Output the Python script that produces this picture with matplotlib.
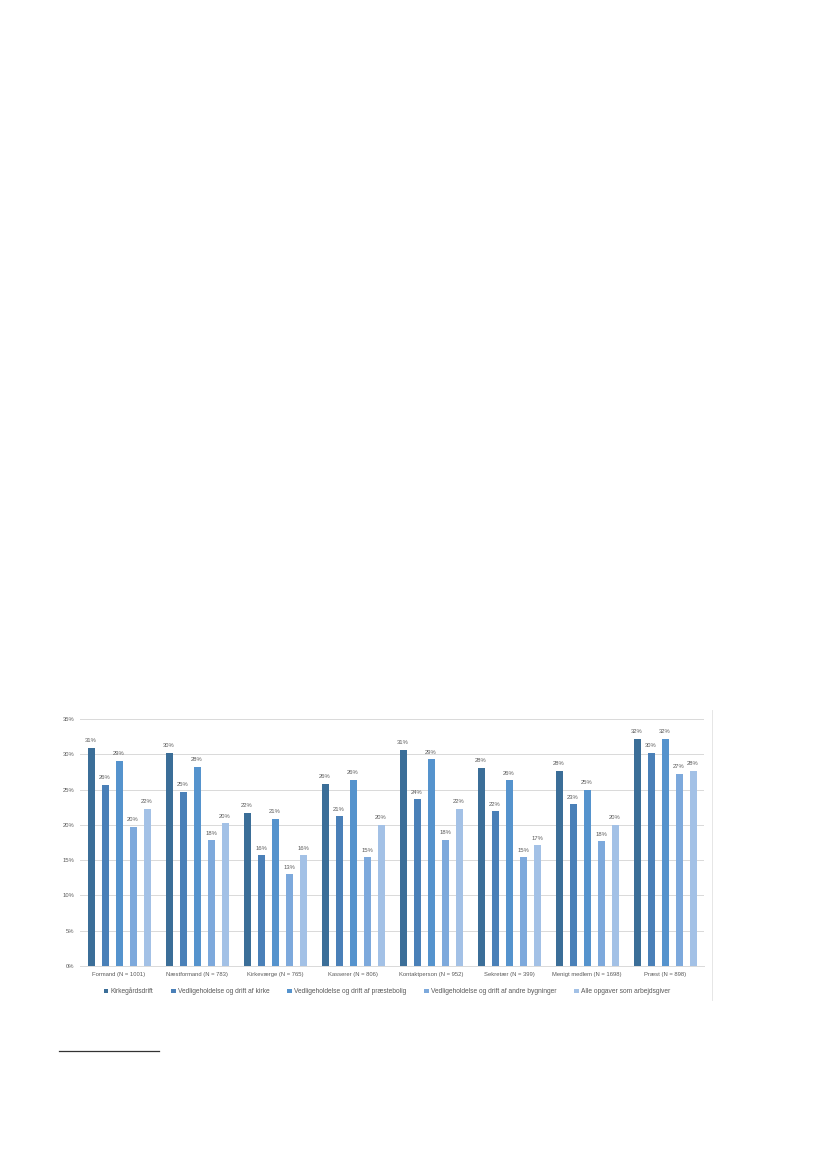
import matplotlib
matplotlib.use('Agg')
import matplotlib.pyplot as plt
from matplotlib.lines import Line2D
import numpy as np

plt.rcParams['font.family'] = ['Liberation Sans', 'DejaVu Sans']

# ------------------- DATA ----------------
roles = ['Formand (N = 1001)', 'Næstformand (N = 783)', 'Kirkeværge (N = 765)',
         'Kasserer (N = 806)', 'Kontaktperson (N = 952)', 'Sekretær (N = 399)',
         'Menigt medlem (N = 1698)', 'Præst (N = 898)']
series = ['Kirkegårdsdrift', 'Vedligeholdelse og drift af kirke',
          'Vedligeholdelse og drift af præstebolig',
          'Vedligeholdelse og drift af andre bygninger',
          'Alle opgaver som arbejdsgiver']
kirkegard = [30.9, 30.2, 21.7, 25.8, 30.6, 28.1, 27.7, 32.2]
kirke = [25.7, 24.7, 15.7, 21.2, 23.6, 21.9, 22.9, 30.2]
praestebolig = [29.1, 28.2, 20.9, 26.4, 29.3, 26.3, 25.0, 32.2]
andre = [19.7, 17.8, 13.0, 15.4, 17.9, 15.4, 17.7, 27.2]
alle = [22.3, 20.2, 15.7, 20.0, 22.3, 17.1, 20.0, 27.7]
values = [kirkegard, kirke, praestebolig, andre, alle]
colors = ['#3B6E98', '#4A80B8', '#5593CD', '#7DA9DC', '#A3C1E6']
TXT = '#595959'

# ------------------- PLOT ----------------
fig = plt.figure(figsize=(8.27, 11.69), dpi=100)
ax = fig.add_axes([80/827, 1 - 966/1169, 624/827, (966-719)/1169])

x = np.arange(len(roles))
slot = 14/78
width = 7/78
for i, (name, vals) in enumerate(zip(series, values)):
    pos = x + (i - 2) * slot
    bars = ax.bar(pos, vals, width, color=colors[i], label=name, zorder=3)
    for b, v in zip(bars, vals):
        ax.text(b.get_x() + b.get_width()/2, v + 0.65, '%d%%' % round(v),
                ha='center', va='bottom', fontsize=4.2, color=TXT)

ax.set_xlim(-0.5, len(roles) - 0.5)
ax.set_ylim(0, 35)
ax.set_yticks(np.arange(0, 36, 5))
ax.set_yticklabels(['%d%%' % t for t in range(0, 36, 5)])
ax.set_xticks(x)
ax.set_xticklabels(roles)
ax.tick_params(axis='both', length=0, labelsize=4.2, labelcolor=TXT, pad=4)
ax.yaxis.grid(True, color='#D9D9D9', linewidth=0.7, zorder=0)
for s in ['top', 'right', 'left']:
    ax.spines[s].set_visible(False)
ax.spines['bottom'].set_color('#D9D9D9')
ax.spines['bottom'].set_linewidth(0.7)

ax.legend(loc='center', bbox_to_anchor=((387 - 80)/624, -0.1035), ncol=5, frameon=False,
          fontsize=4.8, labelcolor=TXT, handlelength=0.7, handleheight=0.7,
          handletextpad=0.3, columnspacing=2.7)

# chart frame edge and footnote rule
fig.add_artist(Line2D([712/827, 712/827], [1 - 710/1169, 1 - 1000/1169],
                      color='#E6E6E6', linewidth=0.7))
fig.add_artist(Line2D([59/827, 159/827], [1 - 1051/1169, 1 - 1051/1169],
                      color='#333333', linewidth=0.9))

fig.savefig('out.png', dpi=100)
